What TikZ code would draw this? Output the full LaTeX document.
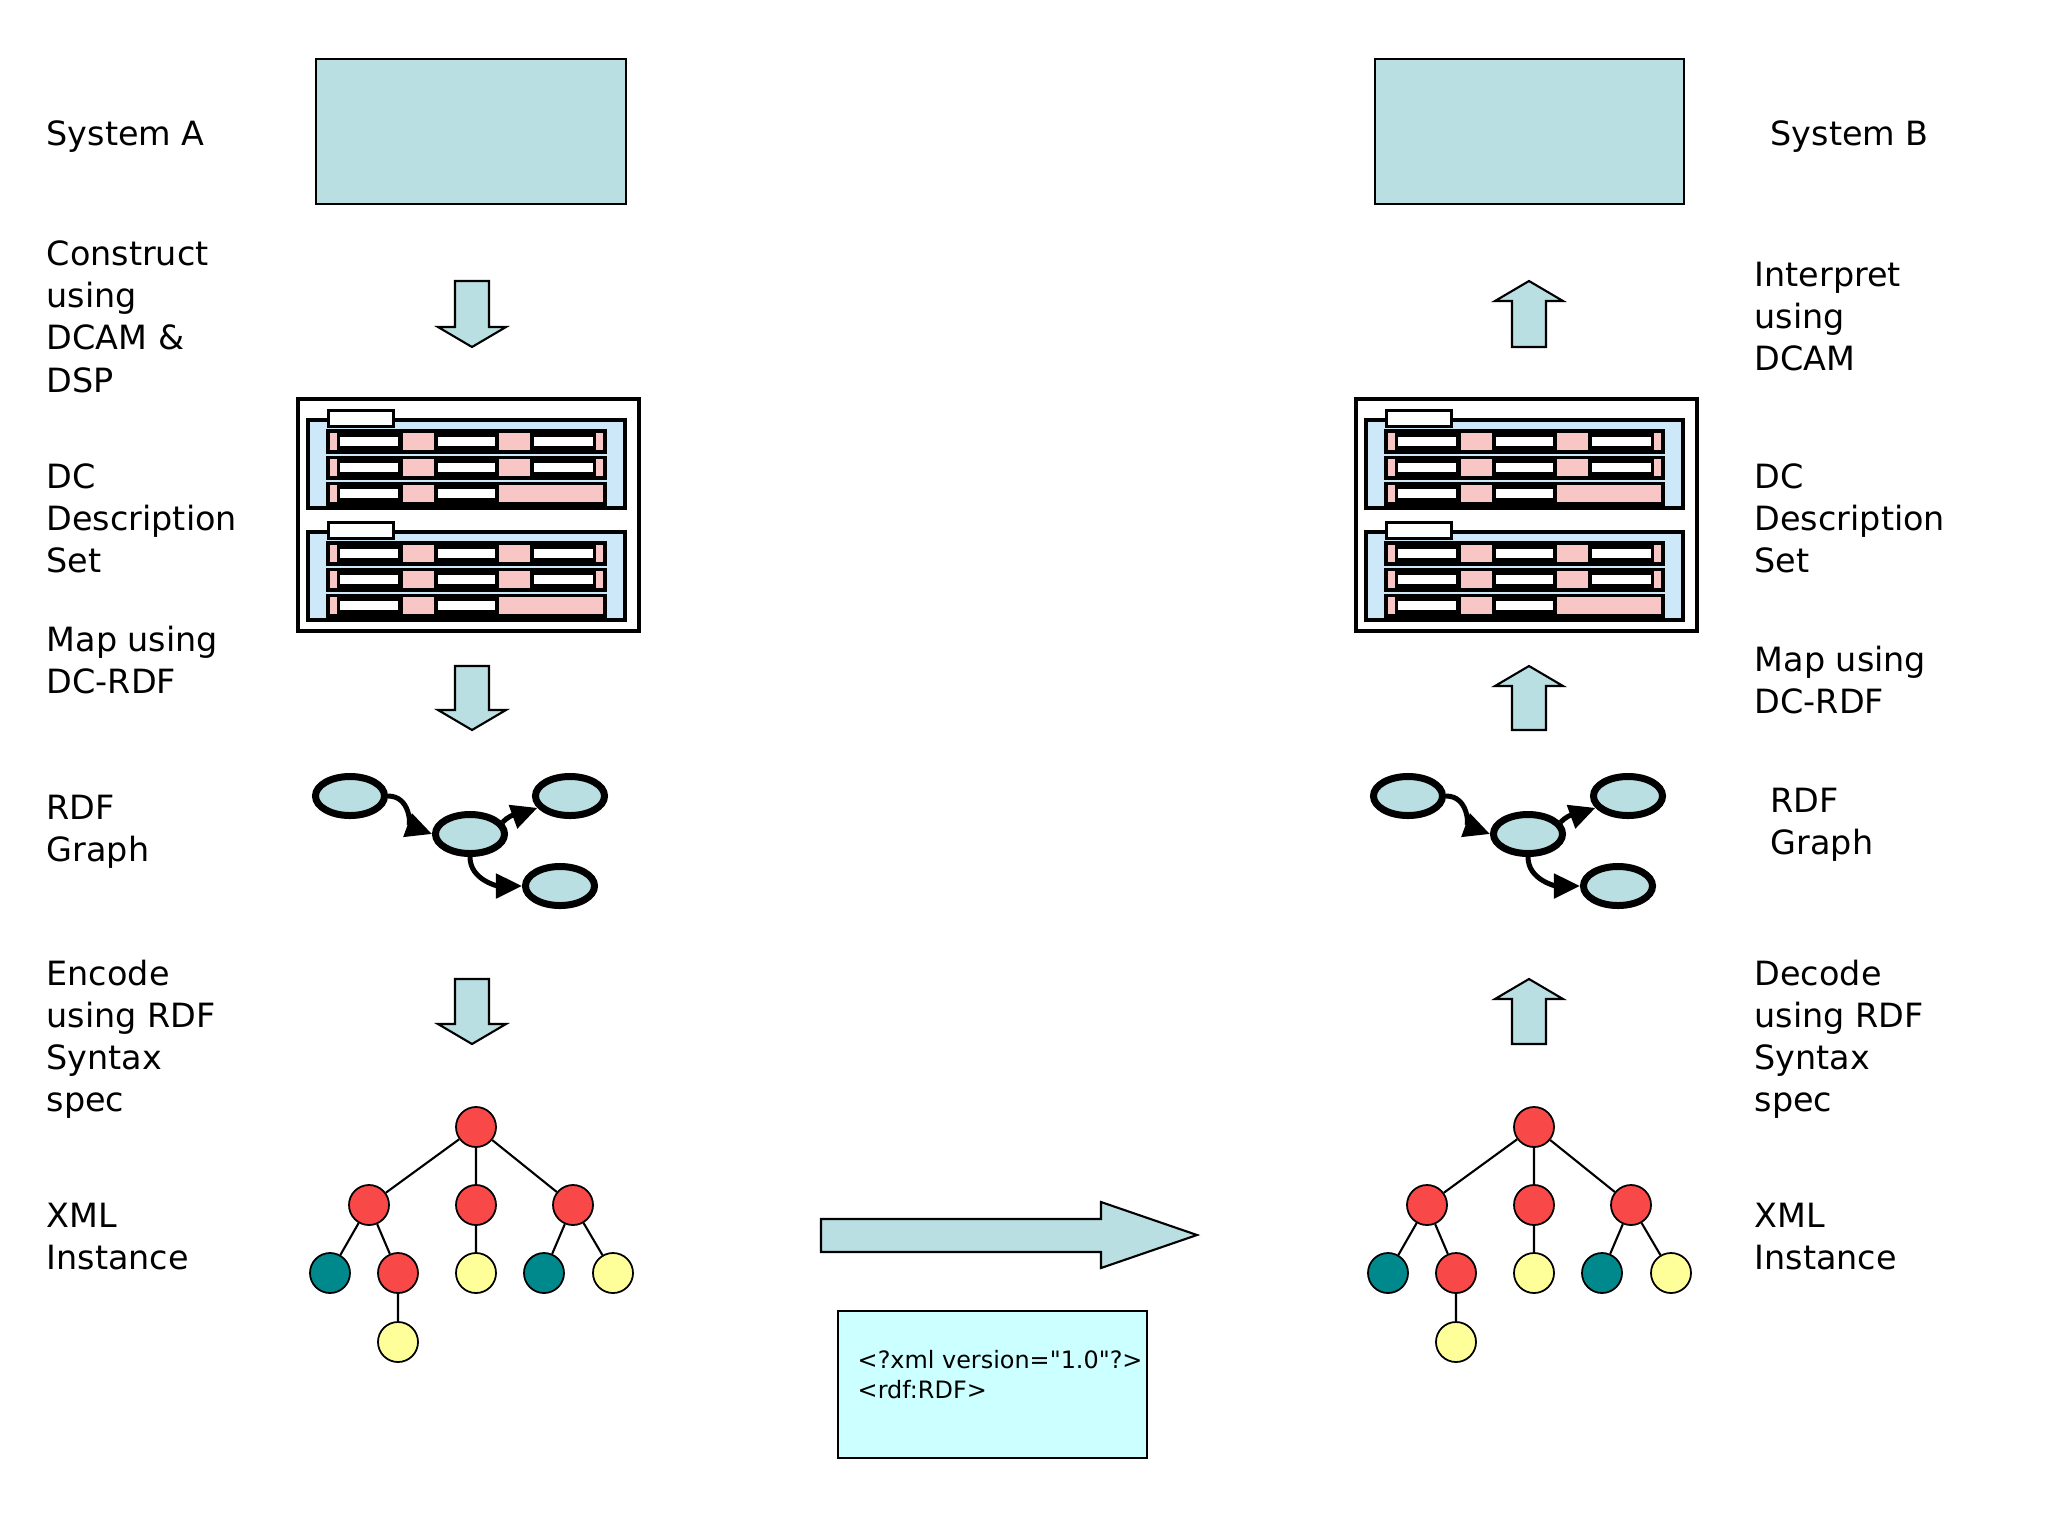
\documentclass[tikz,border=0pt]{standalone}
\usepackage{fontspec}
\setmainfont{DejaVu Sans}
\newfontfamily\plainfont{DejaVu Sans}[Ligatures=ResetAll]
\usetikzlibrary{shapes.geometric,arrows.meta}
\definecolor{boxc}{HTML}{B9DFE3}
\definecolor{panel}{HTML}{CDE8F8}
\definecolor{pinkc}{HTML}{F9C6C6}
\definecolor{redc}{HTML}{F84848}
\definecolor{tealc}{HTML}{00898C}
\definecolor{yelc}{HTML}{FFFF99}
\definecolor{xmlc}{HTML}{CCFFFF}
\newcommand\myDown[3]{\fill[boxc,draw=black,line width=0.6pt] (#1-17,#2)--(#1+17,#2)--(#1+17,#3-20)--(#1+34,#3-20)--(#1,#3)--(#1-34,#3-20)--(#1-17,#3-20)--cycle;}
\newcommand\myUp[3]{\fill[boxc,draw=black,line width=0.6pt] (#1-17,#3)--(#1+17,#3)--(#1+17,#2+20)--(#1+34,#2+20)--(#1,#2)--(#1-34,#2+20)--(#1-17,#2+20)--cycle;}
\tikzset{
 lab/.style={anchor=north west,align=left,font=\fontsize{9.5}{12}\selectfont,inner sep=0},
 sysbox/.style={draw=black,fill=boxc,line width=0.8pt},
 ell/.style={ellipse,draw=black,fill=boxc,line width=0.07cm,minimum width=0.69cm,minimum height=0.39cm,inner sep=0},
 gedge/.style={line width=0.05cm,-{Triangle[length=0.26cm,width=0.24cm]}},
 tn/.style={circle,draw=black,line width=0.5pt,minimum size=0.4cm,inner sep=0},
 tr/.style={tn,fill=redc}, tt/.style={tn,fill=tealc}, ty/.style={tn,fill=yelc},
 dset/.pic={
  \draw[line width=0.04cm,fill=white] (0,0) rectangle (341,232);
  \foreach \dy in {0,112}{
   \draw[line width=0.04cm,fill=panel] (10,21+\dy) rectangle (327,109+\dy);
   \draw[line width=0.03cm,fill=white] (30,11+\dy) rectangle (95,27+\dy);
   \fill[black] (28,30+\dy) rectangle (309,107+\dy);
   \draw[panel,line width=0.5pt] (28,56+\dy)--(309,56+\dy) (28,82+\dy)--(309,82+\dy);
   \foreach \r in {0,26,52}{
     \fill[pinkc] (32,34+\dy+\r) rectangle (39,51+\dy+\r);
     \fill[white] (42,38+\dy+\r) rectangle (100,47+\dy+\r);
     \fill[pinkc] (105,34+\dy+\r) rectangle (136,51+\dy+\r);
     \fill[white] (140,38+\dy+\r) rectangle (197,47+\dy+\r);
   }
   \foreach \r in {0,26}{
     \fill[pinkc] (201,34+\dy+\r) rectangle (232,51+\dy+\r);
     \fill[white] (236,38+\dy+\r) rectangle (295,47+\dy+\r);
     \fill[pinkc] (298,34+\dy+\r) rectangle (305,51+\dy+\r);
   }
   \fill[pinkc] (201,86+\dy) rectangle (305,103+\dy);
  }
 }
}
\begin{document}
\begin{tikzpicture}[x=0.01cm,y=-0.01cm]
\useasboundingbox (0,0) rectangle (2048,1536);
% left column
\node[lab] (la1) at (46,120) {System A};
\node[lab] (la2) at (46,240) {Construct\\using\\DCAM \&\\DSP};
\node[lab] (la3) at (46,463) {DC\\Description\\Set};
\node[lab] (la4) at (46,625) {Map using\\DC-RDF};
\node[lab] (la5) at (46,794) {RDF\\Graph};
\node[lab] (la6) at (46,959) {Encode\\using RDF\\Syntax\\spec};
\node[lab] (la7) at (46,1202) {XML\\Instance};
% right column
\node[lab] (rb1) at (1770,120) {System B};
\node[lab] (rb2) at (1754,261) {Interpret\\using\\DCAM};
\node[lab] (rb3) at (1754,463) {DC\\Description\\Set};
\node[lab] (rb4) at (1754,645) {Map using\\DC-RDF};
\node[lab] (rb5) at (1770,787) {RDF\\Graph};
\node[lab] (rb6) at (1754,959) {Decode\\using RDF\\Syntax\\spec};
\node[lab] (rb7) at (1754,1202) {XML\\Instance};
% system boxes
\draw[sysbox] (316,59) rectangle (626,204);
\draw[sysbox] (1375,59) rectangle (1684,204);
% arrows
\myDown{472}{281}{347}
\myDown{472}{666}{730}
\myDown{472}{979}{1044}
\myUp{1529}{281}{347}
\myUp{1529}{666}{730}
\myUp{1529}{979}{1044}
% description sets
\pic at (298,399) {dset};
\pic at (1356,399) {dset};
% RDF graphs
\foreach \ox/\p in {0/L,1058/R}{
 \node[ell] (\p e1) at (350+\ox,796) {};
 \node[ell] (\p e2) at (470+\ox,834) {};
 \node[ell] (\p e3) at (570+\ox,796) {};
 \node[ell] (\p e4) at (560+\ox,886) {};
 \draw[gedge] (\p e1.east) to[out=0,in=160] (\p e2.west);
 \draw[gedge] (\p e2.20) to[out=45,in=200] (\p e3.200);
 \draw[gedge] (\p e2.south) to[out=-90,in=180] (\p e4.west);
}
% trees
\foreach \ox/\p in {0/L,1058/R}{
 \node[tr] (\p r) at (476+\ox,1127) {};
 \node[tr] (\p a) at (369+\ox,1205) {};
 \node[tr] (\p b) at (476+\ox,1205) {};
 \node[tr] (\p c) at (573+\ox,1205) {};
 \node[tt] (\p a1) at (330+\ox,1273) {};
 \node[tr] (\p a2) at (398+\ox,1273) {};
 \node[ty] (\p b1) at (476+\ox,1273) {};
 \node[tt] (\p c1) at (544+\ox,1273) {};
 \node[ty] (\p c2) at (613+\ox,1273) {};
 \node[ty] (\p a21) at (398+\ox,1342) {};
 \draw[line width=0.6pt] (\p r)--(\p a) (\p r)--(\p b) (\p r)--(\p c)
  (\p a)--(\p a1) (\p a)--(\p a2) (\p b)--(\p b1) (\p c)--(\p c1) (\p c)--(\p c2) (\p a2)--(\p a21);
}
% big arrow
\fill[boxc,draw=black,line width=0.6pt] (821,1219)--(1101,1219)--(1101,1202)--(1197,1235)--(1101,1268)--(1101,1252)--(821,1252)--cycle;
% xml box
\draw[fill=xmlc,line width=0.8pt] (838,1311) rectangle (1147,1458);
\node[lab,font=\plainfont\fontsize{6.8}{8.5}\selectfont] (xml) at (857,1350) {<?xml version="1.0"?>\\<rdf:RDF>};
\end{tikzpicture}
\end{document}
